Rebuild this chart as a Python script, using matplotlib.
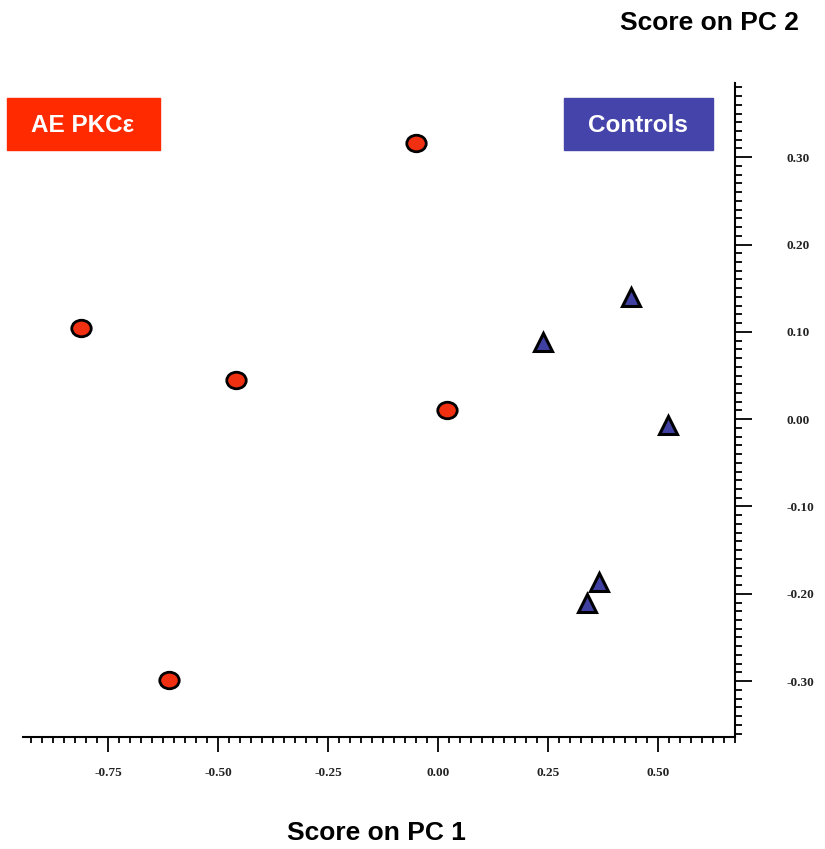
import numpy as np
import matplotlib
matplotlib.use('Agg')
import matplotlib.pyplot as plt
from matplotlib.path import Path
from matplotlib.patches import Rectangle
from matplotlib.ticker import MultipleLocator, FuncFormatter

# PCA scores
pkc_pc1 = [-0.050, -0.811, -0.459, 0.020, -0.611]
pkc_pc2 = [0.316, 0.104, 0.045, 0.010, -0.299]
ctrl_pc1 = [0.439, 0.239, 0.523, 0.366, 0.339]
ctrl_pc2 = [0.140, 0.088, -0.007, -0.187, -0.210]

x_ticks = [-0.75, -0.50, -0.25, 0.00, 0.25, 0.50]
y_ticks = [-0.30, -0.20, -0.10, 0.00, 0.10, 0.20, 0.30]

RED = '#FF2A00'
BLUE = '#4444AA'


def main():
    W, H = 825, 849
    fig = plt.figure(figsize=(W / 100, H / 100), dpi=100)
    ax = fig.add_axes([23 / W, 1 - 737 / H, (735 - 23) / W, (737 - 83) / H])

    # slightly flattened circle like the original markers
    circ = Path.unit_circle()
    ell = Path(circ.vertices * np.array([1.0, 0.85]), circ.codes)

    ax.plot(pkc_pc1, pkc_pc2, linestyle='none', marker=ell, ms=14,
            mfc='#F03010', mec='black', mew=2.0, zorder=3, clip_on=False)
    ax.plot(ctrl_pc1, ctrl_pc2, linestyle='none', marker='^', ms=13.5,
            mfc='#4040A2', mec='black', mew=2.2, zorder=3, clip_on=False)

    ax.set_xlim(-0.943, 0.675)
    ax.set_ylim(-0.364, 0.385)

    for s in ['top', 'left']:
        ax.spines[s].set_visible(False)
    for s in ['bottom', 'right']:
        ax.spines[s].set_linewidth(1.5)

    ax.yaxis.tick_right()
    ax.xaxis.set_major_locator(MultipleLocator(0.25))
    ax.xaxis.set_minor_locator(MultipleLocator(0.025))
    ax.yaxis.set_major_locator(MultipleLocator(0.10))
    ax.yaxis.set_minor_locator(MultipleLocator(0.01))
    ax.set_xticks(x_ticks)
    ax.set_yticks(y_ticks)
    fmt = FuncFormatter(lambda v, p: '%.2f' % v if abs(v) > 1e-9 else '0.00')
    ax.xaxis.set_major_formatter(fmt)
    ax.yaxis.set_major_formatter(fmt)

    ax.tick_params(axis='x', which='major', direction='out', length=10.8,
                   width=1.3, pad=11)
    ax.tick_params(axis='x', which='minor', direction='out', length=4.3, width=1.3)
    ax.tick_params(axis='y', which='major', direction='out', length=12.2,
                   width=1.3, pad=25, right=True, left=False)
    ax.tick_params(axis='y', which='minor', direction='out', length=5.3,
                   width=1.3, right=True, left=False)
    for lab in ax.get_xticklabels() + ax.get_yticklabels():
        lab.set_fontfamily('Liberation Serif')
        lab.set_fontweight('bold')
        lab.set_fontsize(9.5)
        lab.set_color('#222222')

    # axis titles
    fig.text(709 / W, 1 - 23 / H, 'Score on PC 2', ha='center', va='center',
             fontsize=19, fontweight='bold', family='Liberation Sans')
    fig.text(376 / W, 1 - 833 / H, 'Score on PC 1', ha='center', va='center',
             fontsize=19, fontweight='bold', family='Liberation Sans')

    # group labels
    fig.patches.append(Rectangle((7 / W, 1 - 150 / H), 153 / W, 52 / H,
                                 transform=fig.transFigure, color=RED))
    fig.patches.append(Rectangle((564 / W, 1 - 150 / H), 149 / W, 52 / H,
                                 transform=fig.transFigure, color=BLUE))
    fig.text(83 / W, 1 - 126 / H, 'AE PKCε', ha='center', va='center',
             fontsize=17.5, fontweight='bold', color='white',
             family=['Liberation Sans', 'DejaVu Sans'])
    fig.text(638 / W, 1 - 126 / H, 'Controls', ha='center', va='center',
             fontsize=17.5, fontweight='bold', color='white',
             family='Liberation Sans')

    fig.savefig('out.png', dpi=100)


if __name__ == "__main__":
    main()
